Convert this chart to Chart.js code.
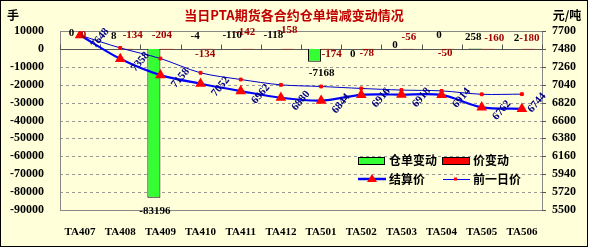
<!DOCTYPE html>
<html lang="zh-cn">
<head>
<meta charset="UTF-8">
<script src="https://cdn.jsdelivr.net/npm/chart.js@4/dist/chart.umd.min.js"></script>
<title>当日PTA期货各合约仓单增减变动情况</title>
<style>
  body { margin: 0; background: #fff; }
  #box { width: 591px; height: 250px; }
</style>
</head>
<body>
<div id="box"><canvas id="myChart" width="591" height="250"></canvas></div>
<script>
// contracts
var contracts = ['TA407', 'TA408', 'TA409', 'TA410', 'TA411', 'TA412', 'TA501', 'TA502', 'TA503', 'TA504', 'TA505', 'TA506'];
// 仓单变动 (手)
var receiptChange = [0, 8, -83196, -4, -110, -118, -7168, 0, 0, 0, 258, 2];
// 价变动
var priceChange = [0, -134, -204, -134, -142, -158, -174, -78, -56, -50, -160, -180];
// 结算价 / 前一日价 (元/吨)
var settlePrice = [7648, 7358, 7158, 7052, 6962, 6880, 6844, 6916, 6918, 6914, 6762, 6744];
var prevPrice = [7648, 7492, 7362, 7186, 7104, 7038, 7018, 6994, 6974, 6964, 6922, 6924];
// axes
var leftMin = -90000, leftMax = 10000, leftStep = 10000;
var rightMin = 5500, rightMax = 7700, rightStep = 220;

var numFont = '"Liberation Serif", "Noto Sans CJK SC", serif';
var cjkFont = '"Noto Sans CJK SC", sans-serif';
var bg = '#FFFFDA';

// label nudges [dx, dy] from bar end
var receiptNudge = [[-2,-16],[0,-13],[1,13],[1,-13],[-2,-14],[-1,-14],[7,11],[-2,5],[0,-4],[4,-14],[-2,-11],[1,-11]];
var priceNudge = [[-3,-14],[6,-14],[-5,-14],[-2,5],[-2,-17],[0,-19],[4,5],[-1,4],[1,-12],[-3,4],[6,-11],[1,-11]];

var frame = {
  id: 'frame',
  beforeDraw: function(chart) {
    var c = chart.ctx, a = chart.chartArea;
    c.save();
    c.fillStyle = '#fff';
    c.fillRect(0, 0, chart.width, chart.height);
    c.fillStyle = bg;
    c.fillRect(0, 0, 588, 247);
    c.strokeStyle = '#000';
    c.lineWidth = 1;
    c.strokeRect(0.5, 0.5, 587, 246);
    // dashed grid
    var ys = chart.scales.y;
    c.strokeStyle = '#999';
    c.setLineDash([3, 3]);
    c.beginPath();
    for (var v = leftMin + leftStep; v < leftMax; v += leftStep) {
      if (v === 0) continue;
      var gy = Math.round(ys.getPixelForValue(v)) + 0.5;
      c.moveTo(a.left, gy); c.lineTo(a.right, gy);
    }
    c.stroke();
    c.setLineDash([]);
    // plot border
    c.strokeStyle = '#888';
    c.strokeRect(a.left + 0.5, a.top + 0.5, a.right - a.left, a.bottom - a.top);
    // titles
    c.fillStyle = '#C00000';
    c.font = 'bold 13px ' + cjkFont;
    c.textAlign = 'center';
    c.textBaseline = 'middle';
    c.fillText('当日PTA期货各合约仓单增减变动情况', 294, 15);
    c.fillStyle = '#000';
    c.font = 'bold 12px ' + cjkFont;
    c.fillText('手', 13, 15);
    c.fillText('元/吨', 567, 15);
    c.restore();
  },
  beforeDatasetsDraw: function(chart) {
    var c = chart.ctx, a = chart.chartArea;
    var y0 = Math.round(chart.scales.y.getPixelForValue(0)) + 0.5;
    var y2 = chart.scales.y2;
    c.save();
    c.strokeStyle = '#555';
    c.lineWidth = 1;
    c.beginPath();
    c.moveTo(a.left, y0); c.lineTo(a.right, y0);
    var w = (a.right - a.left) / contracts.length;
    for (var i = 0; i <= contracts.length; i++) {
      var x = Math.round(a.left + w * i) + 0.5;
      c.moveTo(x, y0); c.lineTo(x, y0 - 5);
    }
    // right axis ticks
    for (var v = rightMin; v <= rightMax; v += rightStep) {
      var yy = Math.round(y2.getPixelForValue(v)) + 0.5;
      c.moveTo(a.right, yy); c.lineTo(a.right + 4, yy);
    }
    c.stroke();
    c.restore();
  },
  afterDatasetsDraw: function(chart) {
    var c = chart.ctx;
    c.save();
    c.textAlign = 'center';
    c.textBaseline = 'middle';
    c.font = 'bold 11px ' + numFont;
    var m0 = chart.getDatasetMeta(0).data;
    var m1 = chart.getDatasetMeta(1).data;
    var m2 = chart.getDatasetMeta(2).data;
    for (var i = 0; i < contracts.length; i++) {
      c.fillStyle = '#000';
      c.fillText(String(receiptChange[i]), m0[i].x + receiptNudge[i][0], m0[i].y + receiptNudge[i][1]);
      c.fillStyle = '#A00000';
      c.fillText(String(priceChange[i]), m1[i].x + priceNudge[i][0], m1[i].y + priceNudge[i][1]);
    }
    c.fillStyle = '#000080';
    for (var j = 0; j < contracts.length; j++) {
      var p = m2[j];
      var dx = j === contracts.length - 1 ? 15 : 20;
      var dy = j === contracts.length - 1 ? -6 : 3;
      c.save();
      c.translate(p.x + dx, p.y + dy);
      c.rotate(-0.87);
      c.fillText(String(settlePrice[j]), 0, 0);
      c.restore();
    }
    c.restore();
  },
  afterDraw: function(chart) {
    var c = chart.ctx, a = chart.chartArea;
    var x1 = a.right - 184, x2 = a.right - 100;
    var r1 = 160, r2 = 179;
    c.save();
    c.lineWidth = 1;
    c.strokeStyle = '#000';
    c.fillStyle = '#33FF33';
    c.fillRect(x1, r1 - 3, 26, 7); c.strokeRect(x1 + 0.5, r1 - 3 + 0.5, 26, 7);
    c.fillStyle = '#FF0000';
    c.fillRect(x2, r1 - 3, 27, 7); c.strokeRect(x2 + 0.5, r1 - 3 + 0.5, 27, 7);
    c.strokeStyle = '#0000FF';
    c.lineWidth = 2.5;
    c.beginPath(); c.moveTo(x1, r2); c.lineTo(x1 + 28, r2); c.stroke();
    c.lineWidth = 1;
    c.beginPath(); c.moveTo(x2 + 1, r2 + 0.5); c.lineTo(x2 + 28, r2 + 0.5); c.stroke();
    c.fillStyle = '#FF0000';
    c.beginPath(); c.moveTo(x1 + 14, r2 - 5); c.lineTo(x1 + 19, r2 + 3); c.lineTo(x1 + 9, r2 + 3); c.closePath(); c.fill();
    c.fillRect(x2 + 12, r2 - 1.5, 3, 3);
    c.fillStyle = '#000';
    c.font = 'bold 12px ' + cjkFont;
    c.textBaseline = 'middle';
    c.textAlign = 'left';
    c.fillText('仓单变动', x1 + 31, r1);
    c.fillText('价变动', x2 + 31, r1);
    c.fillText('结算价', x1 + 31, r2);
    c.fillText('前一日价', x2 + 31, r2);
    c.restore();
  }
};

var ctx = document.getElementById('myChart').getContext('2d');
var myChart = new Chart(ctx, {
  type: 'bar',
  data: {
    labels: contracts,
    datasets: [{
      label: '仓单变动',
      data: receiptChange,
      yAxisID: 'y',
      backgroundColor: '#33FF33',
      borderColor: '#000',
      borderWidth: 1,
      categoryPercentage: 0.65,
      barPercentage: 1,
      order: 2
    }, {
      label: '价变动',
      data: priceChange,
      yAxisID: 'y',
      backgroundColor: '#FF0000',
      borderWidth: 0,
      categoryPercentage: 0.65,
      barPercentage: 1,
      order: 2
    }, {
      type: 'line',
      label: '结算价',
      data: settlePrice,
      yAxisID: 'y2',
      borderColor: '#0000FF',
      borderWidth: 2.2,
      tension: 0.3,
      pointStyle: 'triangle',
      pointRadius: 4,
      pointBackgroundColor: '#FF0000',
      pointBorderColor: '#FF0000',
      order: 1
    }, {
      type: 'line',
      label: '前一日价',
      data: prevPrice,
      yAxisID: 'y2',
      borderColor: '#0000CC',
      borderWidth: 1,
      tension: 0.3,
      pointStyle: 'rect',
      pointRadius: 2,
      pointBackgroundColor: '#FF0000',
      pointBorderColor: '#FF0000',
      order: 0
    }]
  },
  options: {
    responsive: false,
    animation: false,
    layout: { padding: { top: 31, left: 0, right: 0, bottom: 0 } },
    plugins: {
      legend: { display: false },
      tooltip: { enabled: false },
      title: { display: false }
    },
    scales: {
      x: {
        grid: { display: false },
        border: { display: false },
        ticks: {
          color: '#000',
          padding: 8,
          maxRotation: 0,
          font: { family: numFont, size: 11, weight: 'bold' }
        },
        afterFit: function(s) { s.height = 40; }
      },
      y: {
        position: 'left',
        min: leftMin,
        max: leftMax,
        ticks: {
          stepSize: leftStep,
          color: '#000',
          padding: 16,
          font: { family: numFont, size: 12, weight: 'bold' },
          callback: function(v) { return String(v); }
        },
        grid: { display: false, drawTicks: false },
        border: { display: false },
        afterFit: function(s) { s.width = 60; }
      },
      y2: {
        position: 'right',
        min: rightMin,
        max: rightMax,
        ticks: {
          stepSize: rightStep,
          color: '#000',
          padding: 10,
          font: { family: numFont, size: 12, weight: 'bold' },
          callback: function(v) { return String(v); }
        },
        grid: { display: false, drawTicks: false },
        border: { display: false },
        afterFit: function(s) { s.width = 49; }
      }
    }
  },
  plugins: [frame]
});
</script>
</body>
</html>
